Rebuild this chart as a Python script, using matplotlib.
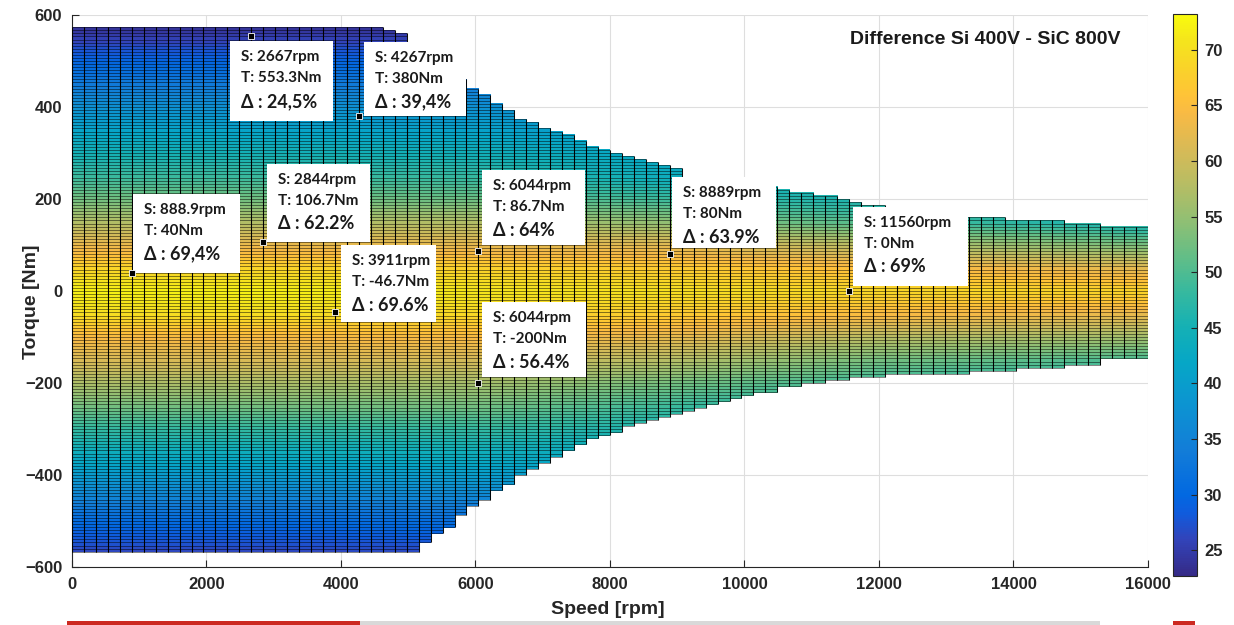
import numpy as np
import matplotlib
matplotlib.use("Agg")
import matplotlib.pyplot as plt
import matplotlib.transforms as mtransforms
from matplotlib.collections import LineCollection
from matplotlib.colors import LinearSegmentedColormap
from matplotlib.patches import Rectangle

# mesh nodes of the map
speed_nodes = np.linspace(0, 16000, 91)
torque_nodes = np.linspace(-600, 600, 181)

# operating envelope per speed column (Nm)
top_torque = ([573.3] * 26 + [566.7, 560, 540, 520, 500, 480, 460,
              441, 430, 409, 393, 378, 367, 357, 350, 339, 328, 317, 309, 302,
              296, 289, 280, 274, 267,
              245, 242, 239, 236, 233, 230, 228, 226,
              224, 218, 215, 209, 206, 202, 193, 187, 187,
              180, 178, 175, 172, 170, 167, 164]
              + [161] * 3 + [154] * 5 + [148] * 3 + [141] * 4)
bottom_torque = ([-566.7] * 29 + [-548, -530, -513, -491, -472, -454, -437, -422,
                 -404, -389, -374, -360, -346, -335, -324, -317, -306, -298,
                 -291, -285, -277, -270, -263, -257, -248, -241, -233, -230,
                 -222, -219,
                 -212, -208, -204, -200, -197, -194, -191, -189, -187, -185,
                 -184, -183, -182, -181, -180, -179]
                 + [-178] * 4 + [-167] * 4 + [-159] * 3 + [-148] * 4)

# difference map (%) sampled at a few speeds / torques
speed_knots = [0, 3000, 6000, 9000, 12000, 16000]
torque_knots = [-600, -500, -400, -300, -250, -200, -150, -100, -50, 0,
                50, 100, 150, 200, 250, 300, 400, 500, 600]
diff_table = [
    [24.0, 24.0, 24.0, 24.0, 24.0, 24.0],
    [30.5, 30.5, 31.0, 31.5, 31.5, 31.5],
    [39.5, 39.5, 40.0, 40.0, 40.0, 40.0],
    [48.0, 48.0, 48.0, 45.5, 44.0, 42.0],
    [52.5, 52.5, 52.5, 48.5, 46.0, 44.0],
    [57.0, 57.0, 56.4, 52.5, 48.5, 46.0],
    [61.0, 61.0, 60.5, 57.5, 52.5, 49.5],
    [64.5, 64.5, 64.5, 62.5, 58.0, 56.0],
    [69.8, 69.8, 69.0, 67.0, 64.5, 62.5],
    [72.0, 72.0, 71.0, 70.0, 69.0, 68.5],
    [68.5, 68.5, 68.0, 67.0, 65.0, 62.0],
    [63.0, 63.0, 62.5, 62.0, 58.0, 53.0],
    [57.5, 57.5, 57.5, 54.5, 50.0, 45.0],
    [52.5, 52.5, 52.0, 48.5, 45.5, 43.0],
    [48.5, 48.5, 48.0, 43.5, 42.5, 42.0],
    [45.0, 45.0, 44.5, 41.5, 41.0, 41.0],
    [37.5, 37.5, 37.5, 37.5, 37.5, 37.5],
    [29.5, 29.5, 29.5, 29.5, 29.5, 29.5],
    [21.5, 21.5, 21.5, 21.5, 21.5, 21.5],
]

# data tips
tip_speed = [2667, 4267, 888.9, 2844, 3911, 6044, 8889, 11560, 6044]
tip_torque = [553.3, 380, 40, 106.7, -46.7, 86.7, 80, 0, -200]
tip_delta = ["24,5%", "39,4%", "69,4%", "62.2%", "69.6%", "64%", "63.9%", "69%", "56.4%"]
# box placement in pixels relative to the tip: dx, dy, width, height
tip_boxes = [(-21, -85, 103, 80), (5, 0, 102, 74), (1, 0, 107, 79),
             (4, 0, 103, 78), (6, -10, 95, 77), (4, 6, 103, 75),
             (2, 6, 104, 71), (4, 5, 115, 79), (4, 6, 104, 75)]

parula = LinearSegmentedColormap.from_list("parula", [
    (0 / 63, (0.2081, 0.1663, 0.5292)), (4 / 63, (0.1959, 0.2645, 0.7279)),
    (7 / 63, (0.0591, 0.3598, 0.8683)), (9 / 63, (0.0060, 0.4086, 0.8828)),
    (14 / 63, (0.0723, 0.4887, 0.8467)), (19 / 63, (0.0488, 0.5772, 0.8228)),
    (24 / 63, (0.0228, 0.6535, 0.7768)), (28 / 63, (0.0843, 0.6928, 0.7062)),
    (32 / 63, (0.2178, 0.7250, 0.6193)), (36 / 63, (0.3953, 0.7459, 0.5244)),
    (40 / 63, (0.5709, 0.7485, 0.4494)), (44 / 63, (0.7184, 0.7411, 0.3905)),
    (48 / 63, (0.8507, 0.7299, 0.3360)), (52 / 63, (0.9739, 0.7314, 0.2666)),
    (54 / 63, (0.9990, 0.7653, 0.2164)), (57 / 63, (0.9789, 0.8271, 0.1633)),
    (60 / 63, (0.9589, 0.8949, 0.1132)), (63 / 63, (0.9763, 0.9831, 0.0538)),
], N=256)

plt.rcParams["font.family"] = "Liberation Sans"
plt.rcParams["font.weight"] = "bold"
plt.rcParams["axes.labelweight"] = "bold"
dark = (0.15, 0.15, 0.15)

# resample the table onto the cell centres
tc = (torque_nodes[:-1] + torque_nodes[1:]) / 2
sc = (speed_nodes[:-1] + speed_nodes[1:]) / 2
tab = np.array(diff_table)
by_speed = np.array([np.interp(tc, torque_knots, tab[:, k]) for k in range(len(speed_knots))]).T
values = np.array([np.interp(sc, speed_knots, row) for row in by_speed])
top = np.array(top_torque)
bot = np.array(bottom_torque)
inside = (torque_nodes[1:, None] <= top[None, :] + 1.0) & (torque_nodes[:-1, None] >= bot[None, :] - 1.0)
values = np.ma.masked_where(~inside, values)

# edges of the mesh, only where cells exist
top_snap = np.array([torque_nodes[1:][inside[:, i]].max() for i in range(len(sc))])
bot_snap = np.array([torque_nodes[:-1][inside[:, i]].min() for i in range(len(sc))])
v_segs = []
h_segs = []
for i in range(len(sc)):
    x0, x1 = speed_nodes[i], speed_nodes[i + 1]
    v_segs.append([(x0, bot_snap[i]), (x0, top_snap[i])])
    v_segs.append([(x1, bot_snap[i]), (x1, top_snap[i])])
    for t in torque_nodes:
        if bot_snap[i] - 0.1 <= t <= top_snap[i] + 0.1:
            h_segs.append([(x0, t), (x1, t)])

fig = plt.figure(figsize=(12.34, 6.25), dpi=100)
ax = fig.add_axes([0.0583, 0.0928, 0.872, 0.8832])
mesh = ax.pcolor(speed_nodes, torque_nodes, values, cmap=parula, vmin=22.7, vmax=73.2,
                 edgecolors="none", antialiased=False, zorder=2)
ax.add_collection(LineCollection(h_segs, colors=[(0, 0, 0, 0.8)], linewidths=0.42, zorder=3))
ax.add_collection(LineCollection(v_segs, colors=[(0, 0, 0, 0.95)], linewidths=0.75, zorder=3))
ax.set_xlim(0, 16000)
ax.set_ylim(-600, 600)
ax.set_xticks(range(0, 16001, 2000))
ax.set_yticks(range(-600, 601, 200))
ax.grid(True, color=(0.87, 0.87, 0.87), linewidth=0.8)
ax.set_axisbelow(True)
for side in ("top", "right"):
    ax.spines[side].set_visible(False)
for side in ("left", "bottom"):
    ax.spines[side].set_color(dark)
    ax.spines[side].set_linewidth(0.8)
ax.tick_params(direction="in", length=5, width=0.8, color=dark, labelcolor=dark,
               labelsize=12, pad=7)
ax.set_xlabel("Speed [rpm]", fontsize=14, color=dark)
ax.set_ylabel("Torque [Nm]", fontsize=14, color=dark)
ax.xaxis.set_label_coords(0.498, -0.061)
ax.yaxis.set_label_coords(-0.030, 0.48)

ax.text(0.974, 0.955, "Difference Si 400V - SiC 800V", transform=ax.transAxes,
        ha="right", va="center", fontsize=14, color=(0.1, 0.1, 0.1), zorder=6)

ax.plot(tip_speed, tip_torque, "s", ms=5, color="k", mec="white", mew=0.6, zorder=7)
tip_font = ["Lato", "DejaVu Sans"]
for s, t, d, (dx, dy, w, h) in zip(tip_speed, tip_torque, tip_delta, tip_boxes):
    trans = mtransforms.IdentityTransform() + mtransforms.ScaledTranslation(s, t, ax.transData)
    ax.add_patch(Rectangle((dx, dy), w, h, transform=trans, facecolor="white",
                           edgecolor="none", zorder=5, clip_on=False))
    ax.text(dx + 11, dy + h - 16, f"S: {s:g}rpm", transform=trans, va="center", ha="left",
            family=tip_font, fontsize=11, color=(0.1, 0.1, 0.1), zorder=6)
    ax.text(dx + 11, dy + h - 37, f"T: {t:g}Nm", transform=trans, va="center", ha="left",
            family=tip_font, fontsize=11, color=(0.1, 0.1, 0.1), zorder=6)
    ax.text(dx + 11, dy + h - 60, f"\u0394 : {d}", transform=trans, va="center", ha="left",
            family=tip_font, fontsize=13, color=(0.1, 0.1, 0.1), zorder=6)

cax = fig.add_axes([0.9506, 0.0784, 0.0195, 0.8992])
cb = fig.colorbar(mesh, cax=cax, ticks=range(25, 71, 5))
cb.outline.set_linewidth(0.8)
cb.outline.set_edgecolor(dark)
cax.tick_params(direction="in", length=4, width=0.8, color=dark, labelcolor=dark,
                labelsize=12, pad=5)

# strip of the slide below the chart
fig.add_artist(Rectangle((360 / 1234, 0), 740 / 1234, 4 / 625, transform=fig.transFigure,
                         facecolor=(0.85, 0.85, 0.85), edgecolor="none", zorder=10))
fig.add_artist(Rectangle((67 / 1234, 0), 293 / 1234, 4 / 625, transform=fig.transFigure,
                         facecolor=(0.8, 0.16, 0.13), edgecolor="none", zorder=10))
fig.add_artist(Rectangle((1173 / 1234, 0), 22 / 1234, 4 / 625, transform=fig.transFigure,
                         facecolor=(0.8, 0.16, 0.13), edgecolor="none", zorder=10))

fig.savefig("out.png", dpi=100)
plt.close(fig)
